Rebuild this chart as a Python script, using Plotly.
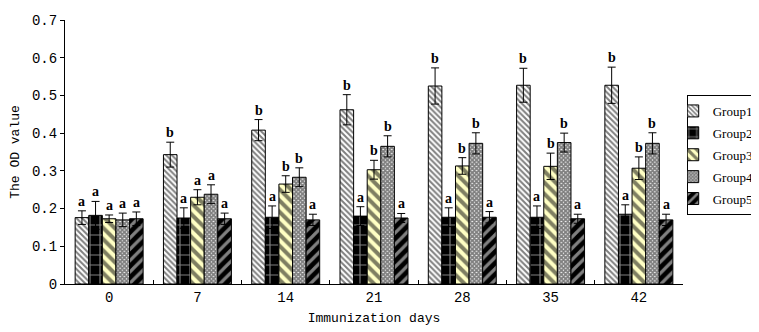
import plotly.graph_objects as go

days = ["0", "7", "14", "21", "28", "35", "42"]
groups = ["Group1", "Group2", "Group3", "Group4", "Group5"]

g1 = [0.176, 0.343, 0.408, 0.462, 0.525, 0.527, 0.527]
g2 = [0.182, 0.175, 0.177, 0.180, 0.177, 0.177, 0.185]
g3 = [0.173, 0.230, 0.265, 0.303, 0.313, 0.312, 0.307]
g4 = [0.170, 0.238, 0.283, 0.365, 0.373, 0.375, 0.373]
g5 = [0.173, 0.173, 0.170, 0.175, 0.177, 0.173, 0.170]

e1 = [0.018, 0.033, 0.028, 0.040, 0.048, 0.045, 0.048]
e2 = [0.037, 0.027, 0.030, 0.025, 0.025, 0.030, 0.025]
e3 = [0.010, 0.020, 0.022, 0.025, 0.022, 0.035, 0.030]
e4 = [0.018, 0.025, 0.025, 0.028, 0.028, 0.025, 0.028]
e5 = [0.018, 0.015, 0.015, 0.012, 0.015, 0.012, 0.015]

l1 = ["a", "b", "b", "b", "b", "b", "b"]
l2 = ["a", "a", "a", "a", "a", "a", "a"]
l3 = ["a", "a", "b", "b", "b", "b", "b"]
l4 = ["a", "a", "b", "b", "b", "b", "b"]
l5 = ["a", "a", "a", "a", "a", "a", "a"]

values = [g1, g2, g3, g4, g5]
errors = [e1, e2, e3, e4, e5]
letters = [l1, l2, l3, l4, l5]

patterns = [
    dict(shape="\\", bgcolor="white", fgcolor="black", size=4, solidity=0.5),
    dict(shape="+", bgcolor="black", fgcolor="white", size=10, solidity=0.22),
    dict(shape="\\", bgcolor="#ffffc4", fgcolor="black", size=8, solidity=0.5),
    dict(shape="x", bgcolor="white", fgcolor="black", size=3, solidity=0.85),
    dict(shape="/", bgcolor="black", fgcolor="white", size=8, solidity=0.4),
]

FONT = "Liberation Mono"
gap = 0.23
bw = (1 - gap) / 5

fig = go.Figure()
for gi in range(5):
    fig.add_trace(go.Bar(
        name=groups[gi], x=days, y=values[gi], legendgroup=groups[gi],
        marker=dict(color=patterns[gi]["bgcolor"], pattern=patterns[gi],
                    line=dict(color="black", width=1)),
        error_y=dict(type="data", array=errors[gi], color="black",
                     thickness=1, width=4),
    ))

annotations = []
for gi in range(5):
    for di in range(len(days)):
        annotations.append(dict(
            x=di + (gi - 2) * bw, y=values[gi][di] + errors[gi][di],
            xref="x", yref="y", text="<b>" + letters[gi][di] + "</b>",
            showarrow=False, yanchor="bottom", yshift=0,
            font=dict(family="Liberation Serif", size=14, color="black"),
        ))

# page body has an 8px default margin; figure sized to fit the window
fig.update_layout(
    width=751, height=324,
    margin=dict(l=57, r=76, t=12, b=48, autoexpand=False),
    barmode="group", bargap=gap, bargroupgap=0,
    plot_bgcolor="white", paper_bgcolor="white",
    font=dict(family=FONT, size=13, color="black"),
    annotations=annotations,
    legend=dict(x=1.006, y=0.716, xanchor="left", yanchor="top",
                bordercolor="black", borderwidth=1, indentation=-15,
                font=dict(family="Liberation Serif", size=13),
                tracegroupgap=2, itemwidth=30),
    showlegend=True,
)
fig.update_xaxes(
    type="category", showline=True, linecolor="black", linewidth=1,
    ticks="inside", tickson="boundaries", ticklen=4, tickcolor="black",
    range=[-0.5, 6.5], showgrid=False, zeroline=False,
    title=dict(text="Immunization days", standoff=8, font=dict(size=13)),
    tickfont=dict(size=14),
)
fig.update_yaxes(
    range=[0, 0.7], tickvals=[0, 0.1, 0.2, 0.3, 0.4, 0.5, 0.6, 0.7],
    ticktext=["0", "0.1", "0.2", "0.3", "0.4", "0.5", "0.6", "0.7"],
    showline=True, linecolor="black", linewidth=1, ticks="outside",
    ticklen=4, tickcolor="black", showgrid=False, zeroline=False,
    title=dict(text="The OD value", standoff=10, font=dict(size=13)),
    tickfont=dict(size=14),
)

fig.write_html("out.html")
